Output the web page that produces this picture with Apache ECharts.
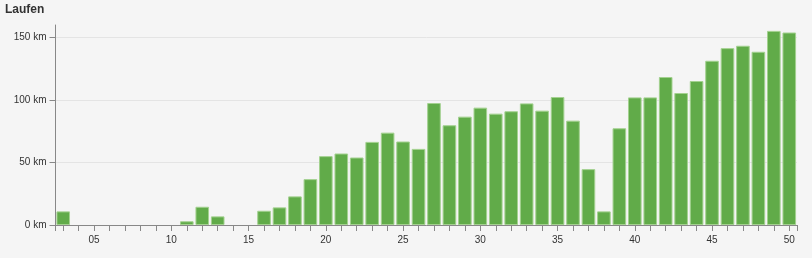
<!DOCTYPE html>
<html>
<head>
<meta charset="utf-8">
<script src="https://cdn.jsdelivr.net/npm/echarts@6/dist/echarts.min.js"></script>
<style>
html,body{margin:0;padding:0;background:#f5f5f5;}
#c{width:812px;height:258px;}
</style>
</head>
<body>
<div id="c"></div>
<script>
const title = 'Laufen';
const weeks = ['03','04','05','06','07','08','09','10','11','12','13','14','15','16','17','18','19','20','21','22','23','24','25','26','27','28','29','30','31','32','33','34','35','36','37','38','39','40','41','42','43','44','45','46','47','48','49','50'];
const km = [10.9,0,0,0,0,0,0,0,3.0,14.6,6.9,0,0,11.4,14.1,22.9,36.7,55.1,57.2,54.0,66.5,73.9,66.8,60.9,97.6,79.8,86.7,93.9,89.1,91.0,97.3,91.5,102.4,83.5,44.7,10.9,77.4,102.1,102.1,118.4,105.6,115.2,131.4,141.5,143.4,138.6,155.3,154.0];
const yTicks = [0,50,100,150];

const axisColor = '#888';
const font = {fontFamily:'Liberation Sans, Arial, sans-serif', fontSize:10, color:'#333'};

const chart = echarts.init(document.getElementById('c'), null, {renderer:'canvas'});
chart.setOption({
  backgroundColor:'#f5f5f5',
  animation:false,
  title:{text:title,left:5,top:4,padding:0,textStyle:{fontFamily:'Liberation Sans, Arial, sans-serif',fontSize:12,fontWeight:'bold',color:'#333'}},
  grid:{left:55.5,right:15,top:25,bottom:33,containLabel:false},
  xAxis:[{
    type:'category',
    data:weeks,
    boundaryGap:true,
    axisLine:{show:true,lineStyle:{color:axisColor,width:1}},
    axisTick:{show:true,interval:0,alignWithLabel:true,length:6,lineStyle:{color:axisColor,width:1}},
    axisLabel:Object.assign({show:true,interval:(i,v)=>parseInt(v,10)%5===0,margin:10},font),
    splitLine:{show:false}
  },{
    type:'value',min:0,max:1,interval:1,position:'bottom',
    axisLine:{show:false},
    axisTick:{show:true,length:6,lineStyle:{color:axisColor,width:1}},
    axisLabel:{show:false},
    splitLine:{show:false}
  }],
  yAxis:{
    type:'value',min:0,max:160,interval:50,
    axisLine:{show:true,lineStyle:{color:axisColor}},
    axisTick:{show:true,length:6,lineStyle:{color:axisColor}},
    axisLabel:Object.assign({showMaxLabel:false,margin:9,formatter:v=>yTicks.includes(v)?v+' km':''},font),
    splitLine:{show:true,showMinLine:false,showMaxLine:false,lineStyle:{color:'#e4e4e4',width:1}}
  },
  series:[{
    type:'bar',
    xAxisIndex:0,
    data:km.map(v=>v===0?'-':v),
    barCategoryGap:'12%',
    itemStyle:{color:'#61ab49',borderColor:'#a3d18f',borderWidth:1}
  }]
});
</script>
</body>
</html>
